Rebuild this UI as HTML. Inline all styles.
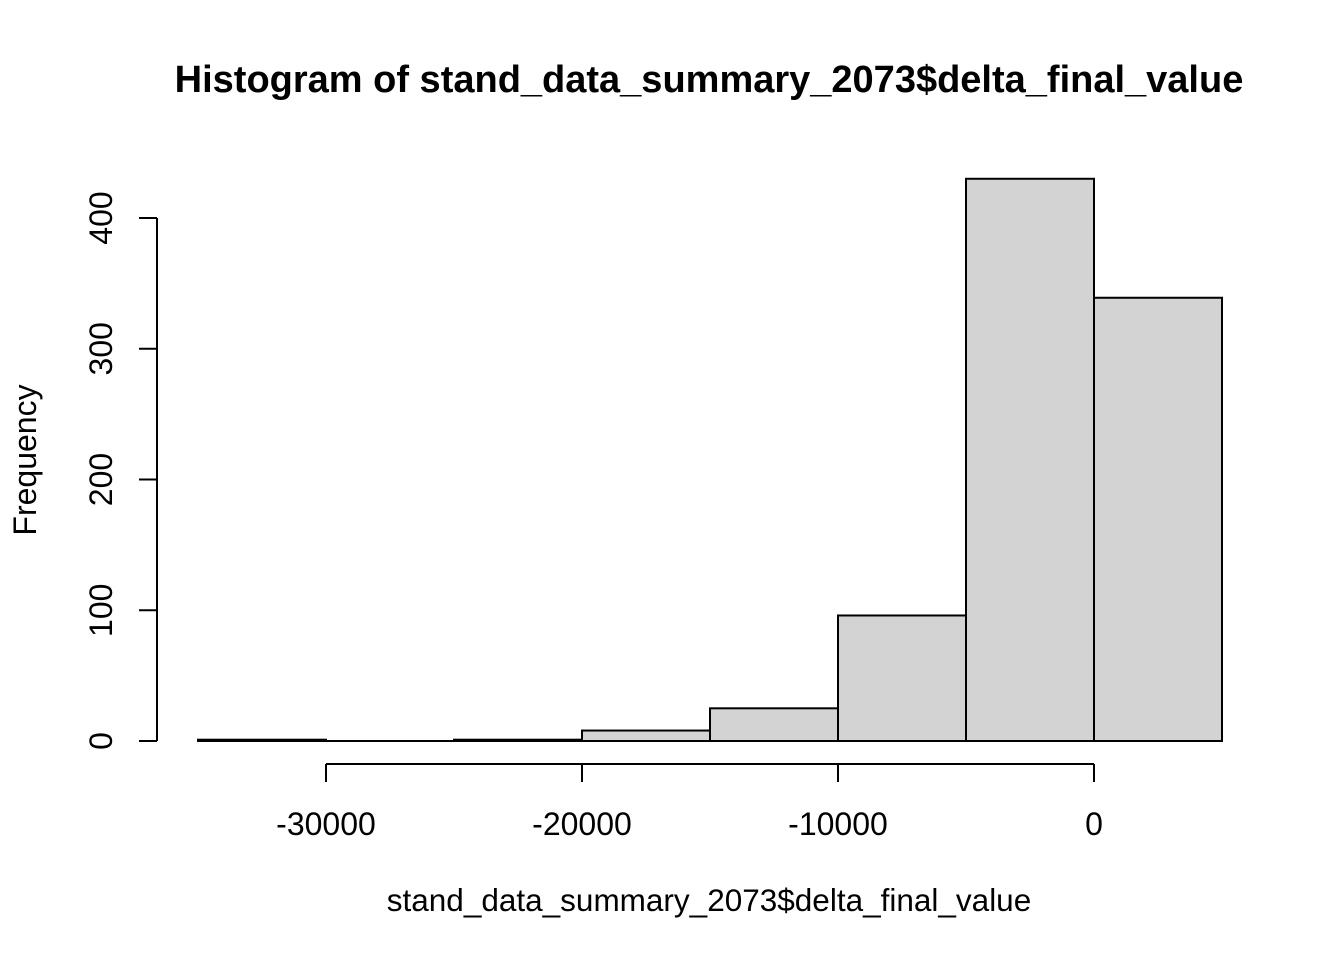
<!DOCTYPE html>
<html><head><meta charset="utf-8"><style>
body{margin:0;background:#fff}
svg{display:block;font-family:"Liberation Sans",Arial,sans-serif}
</style></head><body>
<svg id="chart" width="1344" height="960">
<text x="709" y="92" text-anchor="middle" font-size="38" font-weight="bold">Histogram of stand_data_summary_2073$delta_final_value</text>
<text x="709" y="911" text-anchor="middle" font-size="31.5">stand_data_summary_2073$delta_final_value</text>
<text transform="translate(36,460) rotate(-90)" text-anchor="middle" font-size="32">Frequency</text>
<g id="bars"></g><g id="xaxis"></g><g id="yaxis"></g>
</svg>
<script>
const binStarts=[-35000,-30000,-25000,-20000,-15000,-10000,-5000,0];
const binWidth=5000;
const counts=[1,0,1,8,25,96,430,339];
const xTicks=[-30000,-20000,-10000,0];
const xTickLabels=["-30000","-20000","-10000","0"];
const yTicks=[0,100,200,300,400];
const yTickLabels=["0","100","200","300","400"];
const NS="http://www.w3.org/2000/svg";
const sx=v=>1094+v*0.0256;
const sy=v=>741-v*1.3075;
function mk(t,a,p){const e=document.createElementNS(NS,t);for(const k in a)e.setAttribute(k,a[k]);p.appendChild(e);return e;}
const bars=document.getElementById('bars');
binStarts.forEach((b,i)=>{
 let r;
 if(counts[i]===0){
  r=mk('line',{x1:sx(b),x2:sx(b+binWidth),y1:sy(0),y2:sy(0),stroke:'#000','stroke-width':2},bars);
 } else {
  r=mk('rect',{x:sx(b),y:sy(counts[i]),width:sx(b+binWidth)-sx(b),height:sy(0)-sy(counts[i]),fill:'#d3d3d3',stroke:'#000','stroke-width':2},bars);
 }
 
 
});
const xa=document.getElementById('xaxis');
mk('line',{x1:sx(xTicks[0]),x2:sx(xTicks[xTicks.length-1]),y1:764,y2:764,stroke:'#000','stroke-width':2},xa);
xTicks.forEach((t,i)=>{
 mk('line',{x1:sx(t),x2:sx(t),y1:764,y2:782,stroke:'#000','stroke-width':2},xa);
 const tx=mk('text',{x:sx(t),y:835,'text-anchor':'middle','font-size':32},xa);
 tx.textContent=xTickLabels[i];
 
 
});
const ya=document.getElementById('yaxis');
mk('line',{x1:157,x2:157,y1:sy(yTicks[0]),y2:sy(yTicks[yTicks.length-1]),stroke:'#000','stroke-width':2},ya);
yTicks.forEach((t,i)=>{
 mk('line',{x1:139,x2:157,y1:sy(t),y2:sy(t),stroke:'#000','stroke-width':2},ya);
 const tx=mk('text',{transform:`translate(112,${sy(t)}) rotate(-90)`,'text-anchor':'middle','font-size':32},ya);
 tx.textContent=yTickLabels[i];
 
 
});
</script>
</body></html>
